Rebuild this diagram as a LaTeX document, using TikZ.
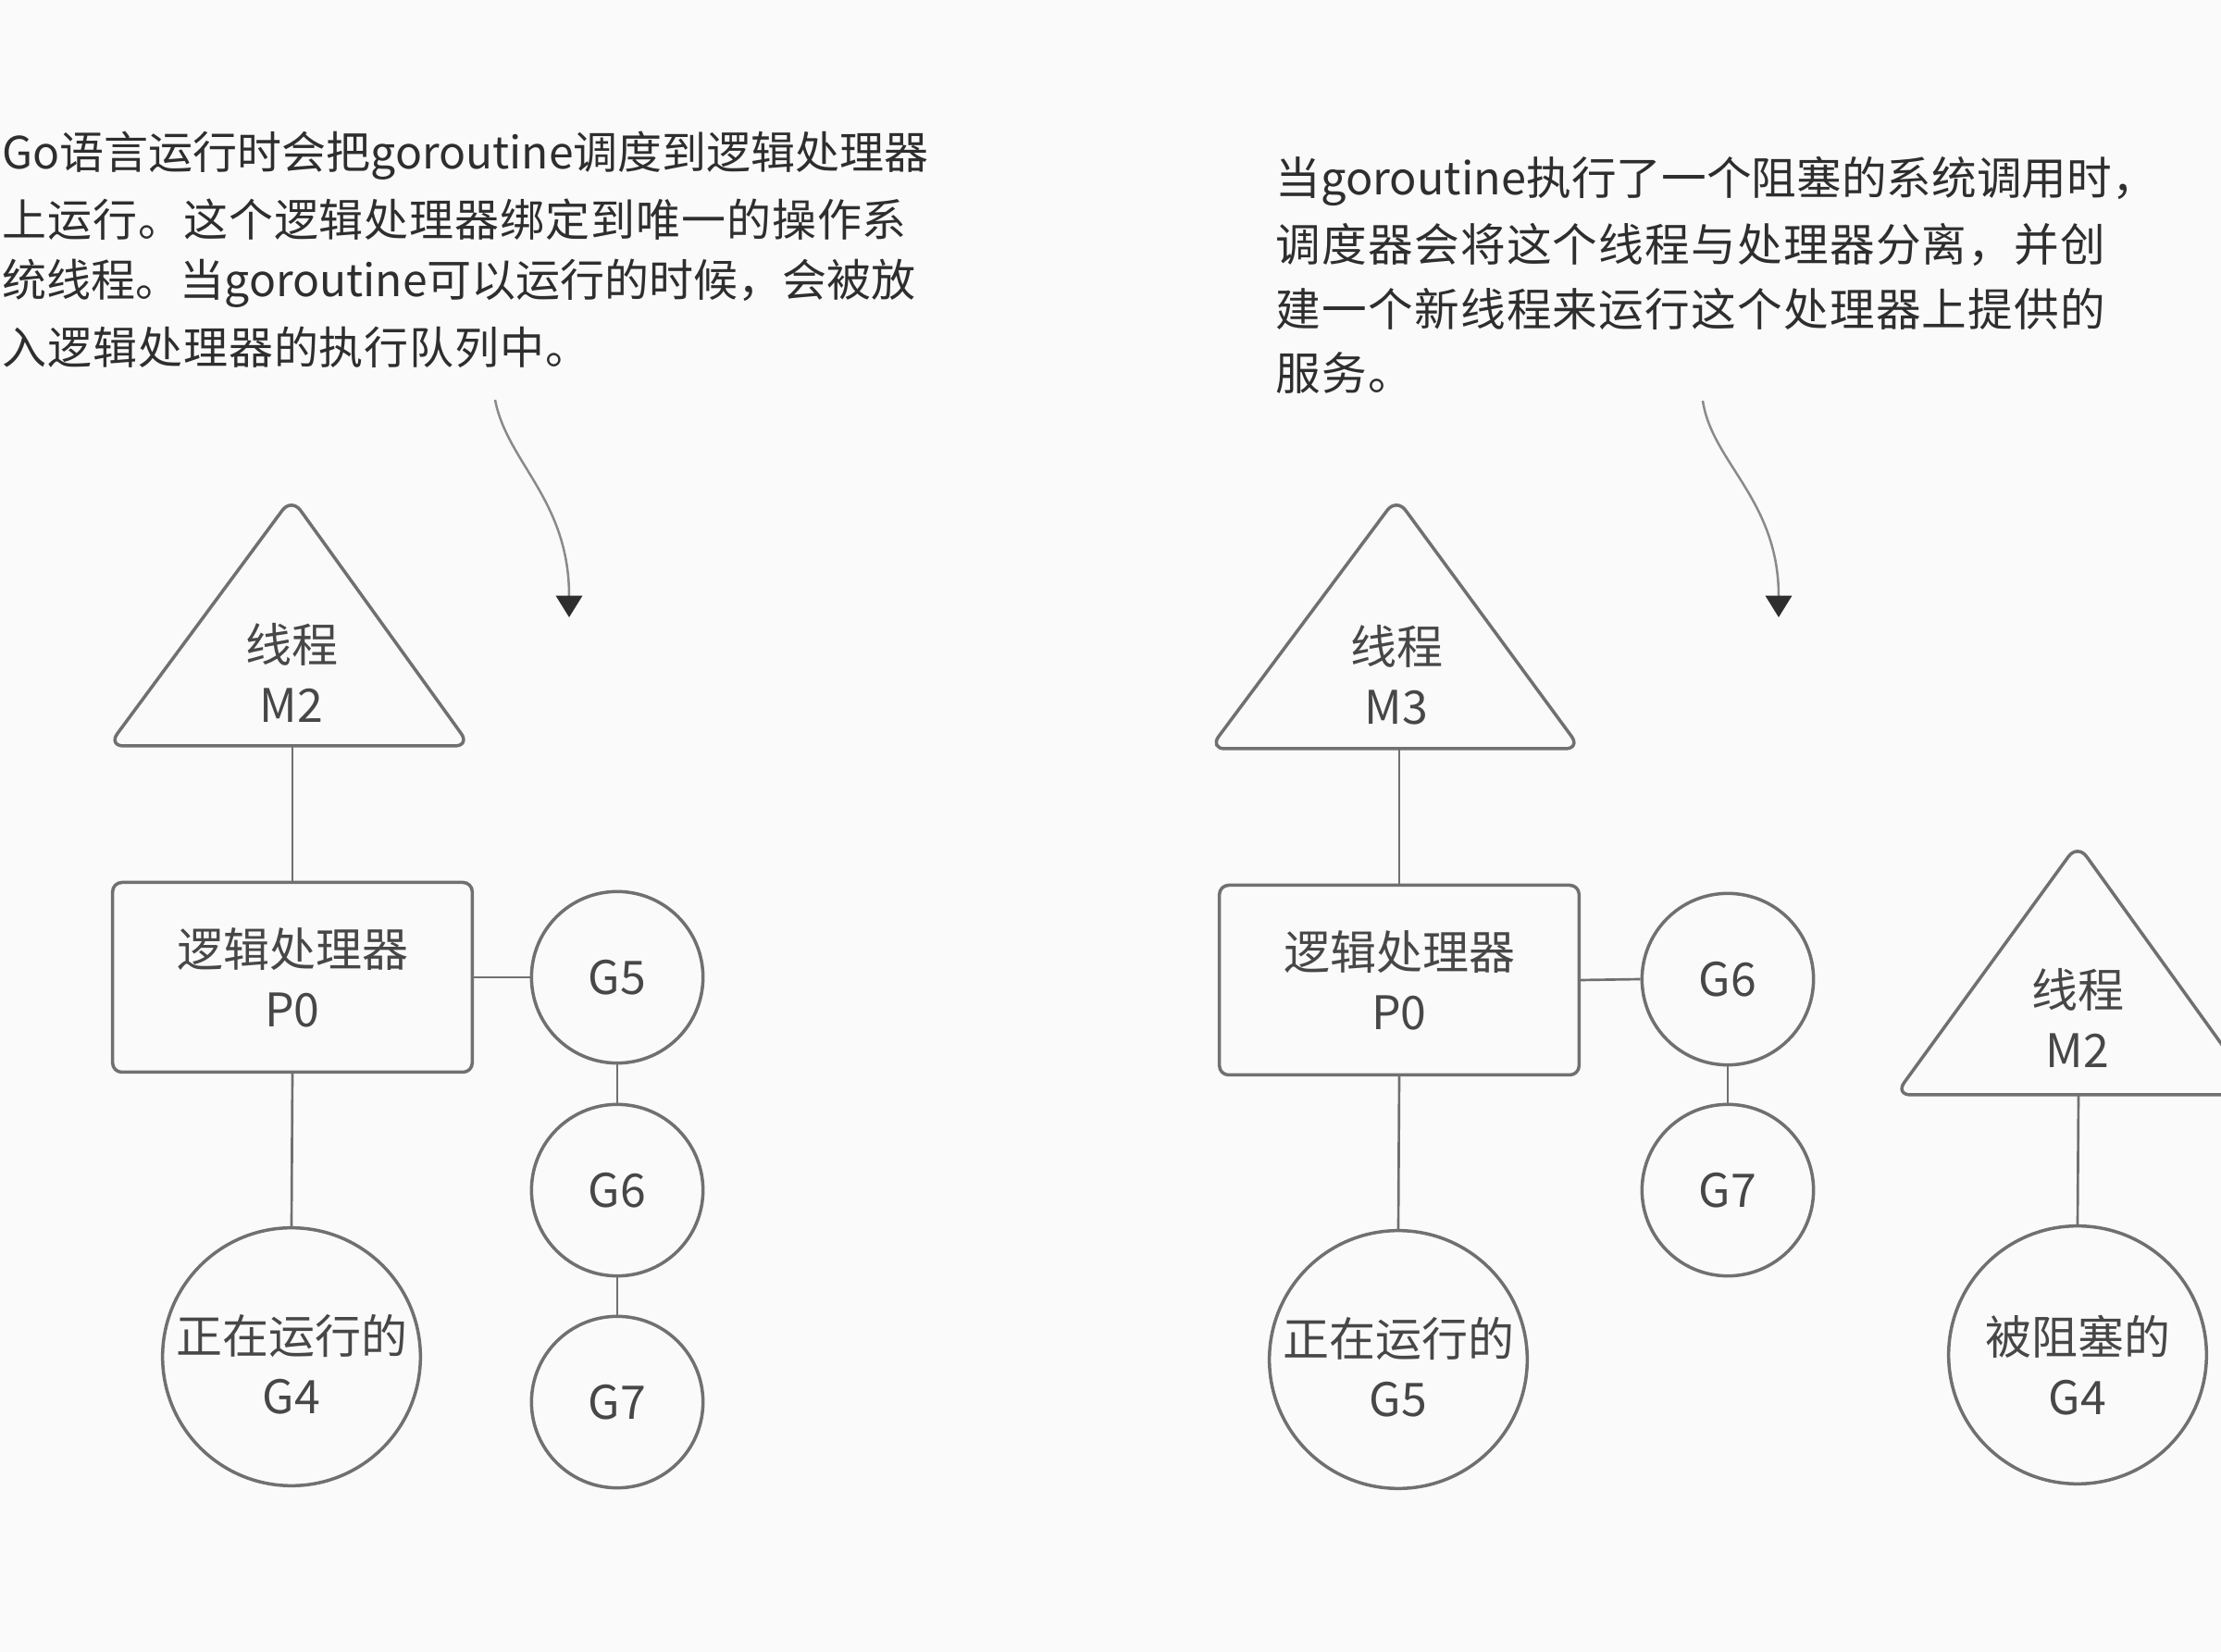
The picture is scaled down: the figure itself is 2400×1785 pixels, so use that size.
\documentclass[tikz,border=0pt]{standalone}
\usepackage{fontspec}
\newfontfamily\cjk{Noto Sans CJK SC}
\newfontfamily\cjkla[LetterSpace=1.9]{Noto Sans CJK SC}
\newfontfamily\cjklb[LetterSpace=2.5]{Noto Sans CJK SC}
\usetikzlibrary{arrows.meta}
\definecolor{linec}{HTML}{707070}
\definecolor{textc}{HTML}{2E2E2E}
\definecolor{labc}{HTML}{474747}
\definecolor{arrc}{HTML}{8A8A8A}
\definecolor{tipc}{HTML}{2E2E2E}
\definecolor{bgc}{HTML}{FAFAFA}
\begin{document}
\begin{tikzpicture}[x=0.3pt,y=-0.3pt,
  para/.style={anchor=west,inner sep=0pt,text=textc},
  lab/.style={align=center,text=labc,font=\cjk\fontsize{15}{19.5}\selectfont,inner sep=0pt},
  shapeline/.style={draw=linec,line width=1.05pt},
  pbox/.style={shapeline,rectangle,rounded corners=3pt,minimum width=116.6pt,minimum height=61.5pt,align=center,text=labc,font=\cjk\fontsize{15}{19.5}\selectfont},
  bigg/.style={shapeline,circle,minimum size=83.6pt,inner sep=0pt},
  smallg/.style={shapeline,circle,minimum size=55.6pt,inner sep=0pt,text=labc,font=\cjk\fontsize{15}{19.5}\selectfont},
  link/.style={draw=linec,line width=0.8pt},
  pointer/.style={draw=arrc,line width=0.75pt,-{Triangle[length=7pt,width=8.5pt,color=tipc]}}
]
\useasboundingbox (0,0) rectangle (2400,1785);
\fill[bgc] (0,0) rectangle (2400,1785);

% ---------- top-left paragraph ----------
\node[para,font=\cjk\fontsize{14.4}{18}\selectfont] (pl1) at (2,168) {Go语言运行时会把goroutine调度到逻辑处理器};
\node[para,font=\cjkla\fontsize{14.4}{18}\selectfont] (pl2) at (2,237) {上运行。这个逻辑处理器绑定到唯一的操作系};
\node[para,font=\cjk\fontsize{14.4}{18}\selectfont] (pl3) at (2,306) {统线程。当goroutine可以运行的时候，会被放};
\node[para,font=\cjkla\fontsize{14.4}{18}\selectfont] (pl4) at (2,375) {入逻辑处理器的执行队列中。};

% ---------- top-right paragraph ----------
\node[para,font=\cjk\fontsize{14.6}{18}\selectfont] (pr1) at (1378,196) {当goroutine执行了一个阻塞的系统调用时，};
\node[para,font=\cjklb\fontsize{14.6}{18}\selectfont] (pr2) at (1378,265) {调度器会将这个线程与处理器分离，并创};
\node[para,font=\cjklb\fontsize{14.6}{18}\selectfont] (pr3) at (1378,334) {建一个新线程来运行这个处理器上提供的};
\node[para,font=\cjklb\fontsize{14.6}{18}\selectfont] (pr4) at (1378,403) {服务。};

% ---------- pointers ----------
\coordinate (a1s) at (535,432);
\coordinate (a1e) at (615,667);
\draw[pointer] (a1s) .. controls (548,500) and (615,540) .. (a1e);
\coordinate (a2s) at (1840,433);
\coordinate (a2e) at (1922,667);
\draw[pointer] (a2s) .. controls (1850,500) and (1922,540) .. (a2e);

% ---------- left diagram ----------
\draw[shapeline,rounded corners=5pt] (315,538) -- (508,806) -- (117,806) -- cycle;
\node[lab] (m2l) at (315,727) {线程\\M2};
\coordinate (m2lb) at (316,806);
\node[pbox] (p0l) at (316,1056) {逻辑处理器\\P0};
\node[bigg] (g4l) at (315,1466) {};
\node[lab] (g4lt) at ([yshift=-2.6pt]g4l.center) {正在运行的\\G4};
\node[smallg] (g5l) at (667,1056) {G5};
\node[smallg] (g6l) at (667,1286) {G6};
\node[smallg] (g7l) at (667,1515) {G7};
\draw[link] (m2lb) -- (p0l.north);
\draw[link] (p0l.south) -- (g4l.north);
\draw[link] (p0l.east) -- (g5l.west);
\draw[link] (g5l.south) -- (g6l.north);
\draw[link] (g6l.south) -- (g7l.north);

% ---------- right diagram ----------
\draw[shapeline,rounded corners=5pt] (1509,538) -- (1708,809) -- (1307,809) -- cycle;
\node[lab] (m3) at (1509,729) {线程\\M3};
\coordinate (m3b) at (1512,809);
\node[pbox] (p0r) at (1512,1059) {逻辑处理器\\P0};
\node[bigg] (g5r) at (1511,1469) {};
\node[lab] (g5rt) at ([yshift=-2.6pt]g5r.center) {正在运行的\\G5};
\node[smallg] (g6r) at (1867,1058) {G6};
\node[smallg] (g7r) at (1867,1286) {G7};
\draw[link] (m3b) -- (p0r.north);
\draw[link] (p0r.south) -- (g5r.north);
\draw[link] (p0r.east) -- (g6r.west);
\draw[link] (g6r.south) -- (g7r.north);

\draw[shapeline,rounded corners=5pt] (2245,912) -- (2440,1183) -- (2048,1183) -- cycle;
\node[lab] (m2r) at (2245,1100) {线程\\M2};
\coordinate (m2rb) at (2246,1183);
\node[bigg] (g4r) at (2245,1464) {};
\node[lab] (g4rt) at ([yshift=-3.2pt]g4r.center) {被阻塞的\\G4};
\draw[link] (m2rb) -- (g4r.north);
\end{tikzpicture}
\end{document}
